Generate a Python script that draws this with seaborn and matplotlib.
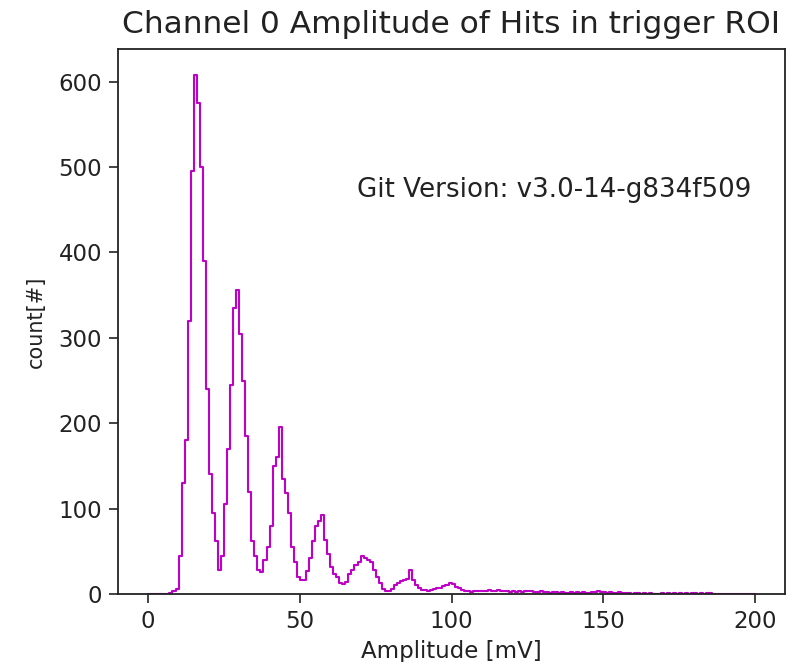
import numpy as np
import pandas as pd
import matplotlib
matplotlib.use("Agg")
import matplotlib.pyplot as plt
import seaborn as sns

# ---- data (1 mV bins, 0..200 mV) ----
bin_edges = list(range(0, 201))
counts_0_49 = [0, 0, 0, 0, 0, 0, 0, 1, 3, 6,
               45, 130, 180, 320, 495, 608, 575, 500, 390, 240,
               140, 95, 62, 28, 45, 105, 170, 245, 335, 356,
               305, 250, 185, 120, 62, 45, 28, 26, 40, 55,
               80, 150, 160, 196, 135, 118, 95, 55, 38, 20]
counts_50_99 = [16, 16, 27, 42, 62, 80, 86, 92, 63, 47,
                32, 24, 20, 13, 12, 14, 24, 28, 34, 38,
                45, 42, 40, 38, 28, 20, 13, 6, 3, 4,
                6, 10, 13, 15, 16, 18, 28, 16, 10, 7,
                5, 5, 4, 5, 6, 7, 7, 9, 11, 13]
counts_100_149 = [12, 8, 7, 5, 4, 3, 2, 3, 3, 4,
                  3, 4, 5, 3, 4, 5, 3, 4, 3, 2,
                  3, 2, 3, 2, 3, 4, 3, 2, 2, 3,
                  2, 2, 1, 2, 2, 1, 2, 1, 1, 2,
                  1, 2, 1, 2, 1, 1, 2, 2, 3, 2]
counts_150_199 = [2, 1, 2, 1, 1, 2, 1, 1, 1, 0,
                  1, 1, 0, 1, 0, 1, 0, 0, 0, 1,
                  0, 1, 0, 1, 0, 1, 0, 1, 0, 1,
                  1, 0, 1, 0, 1, 1, 0, 0, 0, 0,
                  0, 0, 0, 0, 0, 0, 0, 0, 0, 0]
counts = counts_0_49 + counts_50_99 + counts_100_149 + counts_150_199

title = "Channel 0 Amplitude of Hits in trigger ROI"
version_text = "Git Version: v3.0-14-g834f509"
xlabel = "Amplitude [mV]"
ylabel = "count[#]"

centers = [e + 0.5 for e in bin_edges[:-1]]
df = pd.DataFrame({"amplitude": centers, "count": counts})

sns.set_style("ticks")
plt.rcParams["font.family"] = ["DejaVu Sans"]

fig = plt.figure(figsize=(7.86, 6.62), dpi=100)
ax = fig.add_axes([0.150, 0.1027, 0.849, 0.823])

sns.histplot(data=df, x="amplitude", weights="count", bins=bin_edges,
             element="step", fill=False, color="#c000c8", linewidth=1.5, ax=ax)

ax.set_xlim(-10, 210)
ax.set_ylim(0, 638)
ax.set_xticks([0, 50, 100, 150, 200])
ax.set_yticks([0, 100, 200, 300, 400, 500, 600])
ax.tick_params(labelsize=16.5, length=6.5, width=1.2, direction="out",
               pad=5, colors="#222222", labelcolor="#222222")
for s in ax.spines.values():
    s.set_linewidth(1.3)
    s.set_color("#222222")
    s.set_visible(True)

ax.set_title(title, fontsize=22.5, pad=12, color="#222222")
ax.set_xlabel(xlabel, fontsize=16.5, labelpad=5, color="#222222")
ax.set_ylabel(ylabel, fontsize=15, labelpad=9, color="#222222")
ax.text(0.358, 0.741, version_text, transform=ax.transAxes,
        fontsize=18.8, ha="left", va="center", color="#222222")

fig.savefig("out.png", dpi=100)
